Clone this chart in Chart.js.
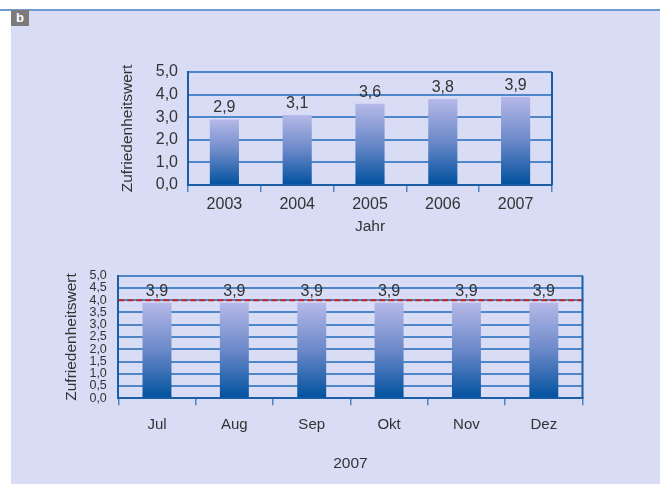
<!DOCTYPE html>
<html>
<head>
<meta charset="utf-8">
<script src="https://cdn.jsdelivr.net/npm/chart.js@4/dist/chart.umd.min.js"></script>
<style>
  html, body { margin: 0; padding: 0; background: #fff; }
  #page { position: relative; width: 660px; height: 484px; overflow: hidden; }
  #rule { position: absolute; left: 0; top: 9px; width: 660px; height: 2px; background: #6f9bd0; }
  #panel { position: absolute; left: 11px; top: 11px; width: 649px; height: 473px; background: #d8dcf5; }
  #tag { position: absolute; left: 11px; top: 10px; width: 18px; height: 16px; background: #7b7b7b;
         color: #fff; font: bold 13px "Liberation Sans", Arial, sans-serif; text-align: center; line-height: 15px; }
  canvas { position: absolute; left: 0; }
  #yearChart { top: 0; }
  #monthChart { top: 250px; }
</style>
</head>
<body>
<div id="page">
  <div id="rule"></div>
  <div id="panel"></div>
  <div id="tag">b</div>
  <canvas id="yearChart" width="660" height="250"></canvas>
  <canvas id="monthChart" width="660" height="234"></canvas>
</div>
<script>
// Zufriedenheit je Jahr
const years = ['2003', '2004', '2005', '2006', '2007'];
const yearValues = [2.9, 3.1, 3.6, 3.8, 3.9];

// Zufriedenheit je Monat 2007
const months = ['Jul', 'Aug', 'Sep', 'Okt', 'Nov', 'Dez'];
const monthValues = [3.9, 3.9, 3.9, 3.9, 3.9, 3.9];
const targetValue = 4.0;

const FONT = '"Liberation Sans", Arial, sans-serif';
const TEXT = '#333333';
const GRID = '#4f86c8';
const AXIS = '#1c5ea5';

const fmt = v => Number(v).toFixed(1).replace('.', ',');

// dark blue at the base, fading to lavender at each bar's top
function barGradient(ctx) {
  const chart = ctx.chart;
  if (!chart.chartArea || !ctx.parsed) return '#5f7fc4';
  const y = chart.scales.y;
  const g = chart.ctx.createLinearGradient(0, y.getPixelForValue(0), 0, y.getPixelForValue(ctx.parsed.y));
  g.addColorStop(0, '#00519e');
  g.addColorStop(0.5, '#6a88c8');
  g.addColorStop(1, '#b6b9e8');
  return g;
}

const valueLabels = {
  id: 'valueLabels',
  afterDatasetsDraw(chart) {
    const c = chart.ctx;
    const ds = chart.data.datasets[0];
    c.save();
    c.font = '16px ' + FONT;
    c.fillStyle = TEXT;
    c.textAlign = 'center';
    c.textBaseline = 'alphabetic';
    chart.getDatasetMeta(0).data.forEach((bar, i) => {
      c.fillText(fmt(ds.data[i]), bar.x, bar.y - 7);
    });
    c.restore();
  }
};

const rightFrame = {
  id: 'rightFrame',
  afterDraw(chart) {
    const a = chart.chartArea, c = chart.ctx;
    c.save();
    c.strokeStyle = AXIS;
    c.lineWidth = 2;
    c.beginPath();
    c.moveTo(a.right, a.top);
    c.lineTo(a.right, a.bottom);
    c.stroke();
    c.restore();
  }
};

const targetLine = {
  id: 'targetLine',
  afterDatasetsDraw(chart) {
    const a = chart.chartArea, c = chart.ctx;
    const y = chart.scales.y.getPixelForValue(targetValue);
    c.save();
    c.strokeStyle = '#c0262c';
    c.lineWidth = 2;
    c.setLineDash([6, 3]);
    c.beginPath();
    c.moveTo(a.left, y);
    c.lineTo(a.right + 2, y);
    c.stroke();
    c.restore();
  }
};

function options(cfg) {
  return {
    responsive: false,
    animation: false,
    devicePixelRatio: 1,
    layout: { padding: cfg.padding },
    plugins: { legend: { display: false }, tooltip: { enabled: false } },
    scales: {
      x: {
        afterFit: s => { s.height = cfg.xHeight; },
        grid: { offset: true, drawOnChartArea: false, drawTicks: true, tickLength: 7, color: GRID, lineWidth: 1.5 },
        border: { color: AXIS, width: 2 },
        ticks: { color: TEXT, font: { family: FONT, size: cfg.xFont }, padding: cfg.xPad },
        title: { display: true, text: cfg.xTitle, color: TEXT, font: { family: FONT, size: 15.5 } }
      },
      y: {
        min: 0, max: 5,
        afterFit: s => { s.width = cfg.yWidth; },
        grid: { drawTicks: false, color: GRID, lineWidth: 2 },
        border: { color: AXIS, width: 2 },
        ticks: { stepSize: cfg.step, autoSkip: false, color: TEXT, font: { family: FONT, size: cfg.yFont, lineHeight: 1 }, padding: cfg.yPad, callback: fmt },
        title: { display: true, text: 'Zufriedenheitswert', color: TEXT, font: { family: FONT, size: 15.5 } }
      }
    }
  };
}

new Chart(document.getElementById('yearChart'), {
  type: 'bar',
  data: {
    labels: years,
    datasets: [{ data: yearValues, backgroundColor: barGradient, barPercentage: 1, categoryPercentage: 0.4 }]
  },
  options: options({
    padding: { left: 114.7, right: 108, top: 72, bottom: 9.7 },
    xHeight: 55.3, yWidth: 73.3, xFont: 16, xPad: 3.4, yPad: 10, yFont: 16, step: 1, xTitle: 'Jahr'
  }),
  plugins: [valueLabels, rightFrame]
});

new Chart(document.getElementById('monthChart'), {
  type: 'bar',
  data: {
    labels: months,
    datasets: [{ data: monthValues, backgroundColor: barGradient, barPercentage: 1, categoryPercentage: 0.374 }]
  },
  options: options({
    padding: { left: 58.4, right: 77.5, top: 25.7, bottom: 7.4 },
    xHeight: 78.3, yWidth: 59.9, xFont: 15, xPad: 10.7, yPad: 11.5, yFont: 12.5, step: 0.5, xTitle: '2007'
  }),
  plugins: [valueLabels, rightFrame, targetLine]
});
</script>
</body>
</html>
